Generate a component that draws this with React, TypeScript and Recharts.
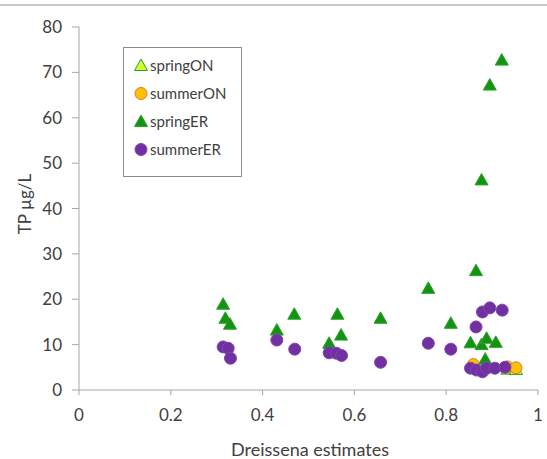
import { ScatterChart, Scatter, XAxis, YAxis } from "recharts";

const FONT = "Lato, 'Noto Sans', sans-serif";
const TEXT = "#404040";
const AXIS = "#a6a6a6";

const xTicks = [0, 0.2, 0.4, 0.6, 0.8, 1];
const yTicks = [0, 10, 20, 30, 40, 50, 60, 70, 80];

const springON = [
  { x: 0.933, y: 4.6 },
  { x: 0.952, y: 4.5 },
];

const summerON = [
  { x: 0.859, y: 5.6 },
  { x: 0.933, y: 5.1 },
  { x: 0.952, y: 4.9 },
];

const springER = [
  { x: 0.314, y: 18.9 }, { x: 0.319, y: 15.8 }, { x: 0.329, y: 14.5 },
  { x: 0.431, y: 13.2 }, { x: 0.469, y: 16.7 }, { x: 0.545, y: 10.3 },
  { x: 0.563, y: 16.7 }, { x: 0.571, y: 12.1 }, { x: 0.657, y: 15.8 },
  { x: 0.761, y: 22.4 }, { x: 0.81, y: 14.7 }, { x: 0.853, y: 10.4 },
  { x: 0.865, y: 26.3 }, { x: 0.877, y: 46.3 }, { x: 0.877, y: 10.0 },
  { x: 0.885, y: 6.8 }, { x: 0.888, y: 11.4 }, { x: 0.895, y: 67.2 },
  { x: 0.908, y: 10.5 }, { x: 0.921, y: 72.7 },
];

const summerER = [
  { x: 0.314, y: 9.5 }, { x: 0.325, y: 9.2 }, { x: 0.33, y: 7.0 },
  { x: 0.431, y: 11.0 }, { x: 0.47, y: 9.0 }, { x: 0.545, y: 8.2 },
  { x: 0.561, y: 8.1 }, { x: 0.572, y: 7.6 }, { x: 0.657, y: 6.1 },
  { x: 0.761, y: 10.3 }, { x: 0.81, y: 9.0 }, { x: 0.853, y: 4.8 },
  { x: 0.865, y: 13.9 }, { x: 0.866, y: 4.4 }, { x: 0.879, y: 17.2 },
  { x: 0.879, y: 4.0 }, { x: 0.888, y: 4.8 }, { x: 0.895, y: 18.1 },
  { x: 0.906, y: 4.8 }, { x: 0.922, y: 17.6 }, { x: 0.928, y: 5.0 },
];

const series = [
  { name: "springON", data: springON, kind: "tri", fill: "#ccff33", stroke: "#339933" },
  { name: "summerON", data: summerON, kind: "dot", fill: "#ffc000", stroke: "#e0782c" },
  { name: "springER", data: springER, kind: "tri", fill: "#129412", stroke: "#2ea02e" },
  { name: "summerER", data: summerER, kind: "dot", fill: "#7030a0", stroke: "#8244b0" },
];

function Marker({ kind, x, y, fill, stroke }: any) {
  if (kind === "tri") {
    const pts = `${x},${y - 6.5} ${x + 6.5},${y + 5} ${x - 6.5},${y + 5}`;
    return <polygon points={pts} fill={fill} stroke={stroke} strokeWidth={1} />;
  }
  return <circle cx={x} cy={y} r={6} fill={fill} stroke={stroke} strokeWidth={1} />;
}

function makeShape(s: any) {
  return (props: any) => <Marker kind={s.kind} x={props.cx} y={props.cy} fill={s.fill} stroke={s.stroke} />;
}

// legend drawn as a plain box so it doesn't shrink the plot area
function LegendBox() {
  return (
    <div style={{
      position: "absolute", left: 123, top: 47, width: 119, height: 130,
      border: "1px solid #8c8c8c", background: "#fff", boxSizing: "border-box", paddingTop: 3,
    }}>
      {series.map(s => (
        <div key={s.name} style={{ display: "flex", alignItems: "center", height: 28, paddingLeft: 10 }}>
          <svg width={14} height={14}>
            <Marker kind={s.kind} x={7} y={7.5} fill={s.fill} stroke={s.stroke} />
          </svg>
          <span style={{ fontFamily: FONT, fontSize: 15, color: TEXT, marginLeft: 2 }}>{s.name}</span>
        </div>
      ))}
    </div>
  );
}

export default function App() {
  return (
    <div style={{ position: "absolute", left: 0, top: 0, width: 547, height: 459, background: "#fff" }}>
      <div style={{ position: "absolute", left: 0, top: 4, width: 547, height: 2, background: "#c8c8c8" }} />
      <ScatterChart width={547} height={459} margin={{ top: 27, right: 9, bottom: 0, left: 0 }}>
        <XAxis
          type="number" dataKey="x" domain={[0, 1]} ticks={xTicks}
          height={69} tickSize={5} tickMargin={14}
          stroke={AXIS} tick={{ fill: TEXT, fontSize: 17, fontFamily: FONT }}
          label={{
            content: () => (
              <text x={310} y={456} textAnchor="middle" fill={TEXT} fontSize={18} fontFamily={FONT}>
                Dreissena estimates
              </text>
            ),
          }}
        />
        <YAxis
          type="number" dataKey="y" domain={[0, 80]} ticks={yTicks}
          width={79} tickSize={7} tickMargin={10}
          stroke={AXIS} tick={{ fill: TEXT, fontSize: 17, fontFamily: FONT }}
          label={{
            content: () => (
              <text x={0} y={0} transform="translate(31 204) rotate(-90)" textAnchor="middle" fill={TEXT} fontSize={17} fontFamily={FONT}>
                TP µg/L
              </text>
            ),
          }}
        />
        {series.map(s => (
          <Scatter key={s.name} name={s.name} data={s.data} shape={makeShape(s)} isAnimationActive={false} />
        ))}
      </ScatterChart>
      <LegendBox />
    </div>
  );
}
